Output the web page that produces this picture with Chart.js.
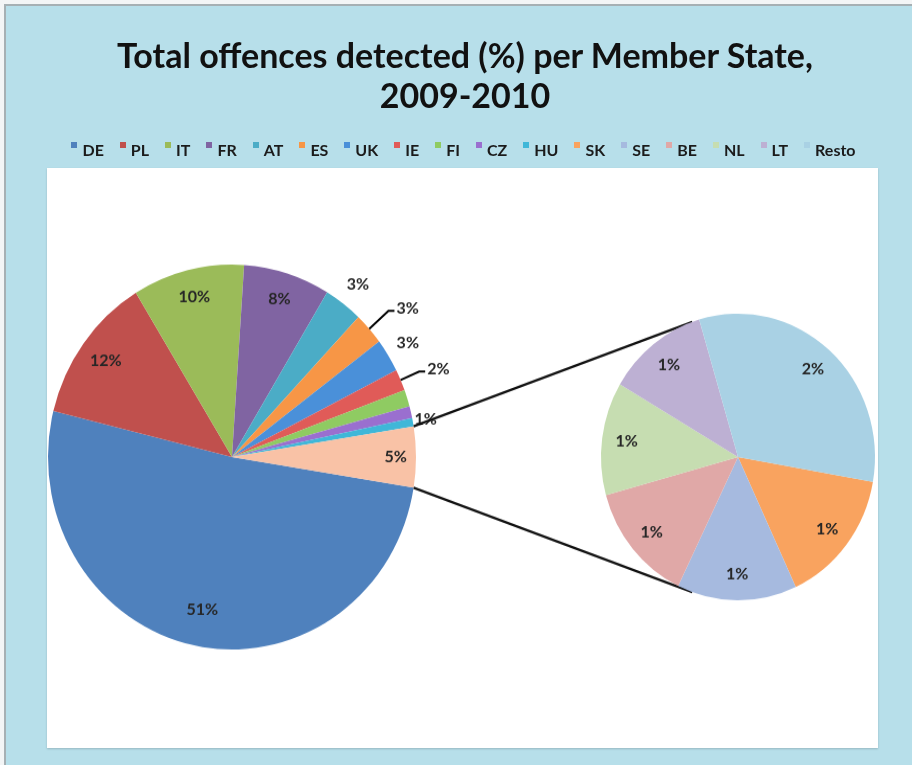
<!DOCTYPE html>
<html>
<head>
<meta charset="utf-8">
<title>Total offences detected (%) per Member State, 2009-2010</title>
<script src="https://cdn.jsdelivr.net/npm/chart.js@4.4.1/dist/chart.umd.min.js"></script>
<style>
  html, body { margin: 0; padding: 0; }
  body { width: 912px; height: 765px; position: relative; overflow: hidden; background: #f3f5f6; font-family: Lato, "Open Sans", sans-serif; }
  #frame { position: absolute; left: 4px; top: 4px; right: 0; bottom: 0; background: #b7dfea; border-left: 2px solid #a6b0b4; border-top: 2px solid #a6b0b4; }
  #plot { position: absolute; left: 47px; top: 168px; width: 831px; height: 580px; background: #fff; box-shadow: 0 1px 2px rgba(0,0,0,0.18); }
  #title { position: absolute; left: 0; top: 35px; width: 930px; text-align: center; font-weight: bold; font-size: 34px; line-height: 40px; color: #111; }
  #legend { position: absolute; left: 0; top: 141px; width: 927px; display: flex; justify-content: center; gap: 16px; font-size: 16px; font-weight: bold; line-height: 18px; color: #1b1b1b; }
  #legend .item { display: flex; align-items: flex-start; }
  #legend .box { width: 6px; height: 6px; margin: 1px 5px 0 0; }
  canvas { position: absolute; left: 0; top: 0; transform: scaleY(1.046); transform-origin: 0 457px; }
</style>
</head>
<body>
<div id="frame"></div>
<div id="plot"></div>
<canvas id="mainPie" width="912" height="765"></canvas>
<canvas id="restPie" width="912" height="765"></canvas>
<div id="title">Total offences detected (%) per Member State,<br>2009-2010</div>
<div id="legend"></div>
<script>
// big pie: the states with the largest shares
const mainLabels = ['DE', 'PL', 'IT', 'FR', 'AT', 'ES', 'UK', 'IE', 'FI', 'CZ', 'HU'];
const mainValues = [51.3, 12.4, 9.8, 7.6, 3.4, 2.7, 2.8, 1.8, 1.4, 1.0, 0.7];
// small pie: states grouped into the "other" slice of the big pie
const restLabels = ['SK', 'SE', 'BE', 'NL', 'LT', 'Resto'];
const restValues = [0.78, 0.72, 0.69, 0.65, 0.61, 1.65];

const mainColors = ['#4f81bd', '#c0504d', '#9bbb59', '#8064a2', '#4bacc6', '#f79646',
                    '#4a90d9', '#e05b58', '#8fcb62', '#9a6fcf', '#3fb7d8'];
const restColors = ['#f9a35f', '#a6badf', '#e0a8a7', '#c6ddb1', '#bdb0d3', '#a9d1e4'];
const otherColor = '#f9c2a6';

const sum = arr => arr.reduce((a, b) => a + b, 0);
const otherTotal = sum(restValues);
const grandTotal = sum(mainValues) + otherTotal;

// where each slice gets its percentage label (k = fraction of the radius)
const mainPlaces = [
  { k: 0.81 }, { k: 0.85 }, { k: 0.855 }, { k: 0.86 },
  { k: 1.13 }, { k: 1.14, lead: true }, { k: 1.125 }, { k: 1.11, lead: true },
  null, null, { k: 1.07 }, { k: 0.89 }
];
const restPlaces = restLabels.map(() => ({ k: 0.82 }));

// legend row built from both pies
const legend = document.getElementById('legend');
mainLabels.concat(restLabels).forEach((name, i) => {
  const color = i < mainLabels.length ? mainColors[i] : restColors[i - mainLabels.length];
  const item = document.createElement('div');
  item.className = 'item';
  item.innerHTML = `<span class="box" style="background:${color}"></span><span>${name}</span>`;
  legend.appendChild(item);
});

// percentage labels, inside or outside the slice, with optional leader line
const pctLabels = {
  id: 'pctLabels',
  afterDatasetsDraw(chart, args, opts) {
    const ctx = chart.ctx;
    const values = chart.data.datasets[0].data;
    ctx.save();
    ctx.font = 'bold 16px Lato';
    ctx.fillStyle = '#262626';
    ctx.strokeStyle = '#000';
    ctx.lineWidth = 2;
    chart.getDatasetMeta(0).data.forEach((arc, i) => {
      const place = opts.places[i];
      if (!place) return;
      const p = arc.getProps(['x', 'y', 'startAngle', 'endAngle', 'outerRadius'], true);
      const mid = (p.startAngle + p.endAngle) / 2;
      const cos = Math.cos(mid), sin = Math.sin(mid);
      const text = Math.round(values[i] / grandTotal * 100) + '%';
      const px = p.x + cos * p.outerRadius * place.k;
      const py = p.y + sin * p.outerRadius * place.k;
      ctx.textBaseline = 'middle';
      if (place.lead) {
        ctx.beginPath();
        ctx.moveTo(p.x + cos * p.outerRadius, p.y + sin * p.outerRadius);
        ctx.lineTo(px, py);
        ctx.lineTo(px + 6, py);
        ctx.stroke();
        ctx.textAlign = 'left';
        ctx.fillText(text, px + 8, py - 2);
      } else {
        ctx.textAlign = 'center';
        ctx.fillText(text, px, py);
      }
    });
    ctx.restore();
  }
};

const mainChart = new Chart(document.getElementById('mainPie'), {
  type: 'pie',
  data: {
    labels: mainLabels.concat(['Other']),
    datasets: [{
      data: mainValues.concat([otherTotal]),
      backgroundColor: mainColors.concat([otherColor]),
      borderWidth: 0
    }]
  },
  options: {
    responsive: false,
    animation: false,
    radius: 184,
    // the "other" slice is centred on the right, facing the small pie
    rotation: 90 + otherTotal / grandTotal * 180,
    layout: { padding: { left: 0, right: 448, top: 149, bottom: 0 } },
    plugins: {
      legend: { display: false },
      tooltip: { enabled: false },
      pctLabels: { places: mainPlaces }
    }
  },
  plugins: [pctLabels]
});

// lines from the edges of the "other" slice to the small pie
const connectors = {
  id: 'connectors',
  beforeDatasetsDraw(chart) {
    const o = mainChart.getDatasetMeta(0).data[mainLabels.length]
      .getProps(['x', 'y', 'startAngle', 'endAngle', 'outerRadius'], true);
    const s = chart.getDatasetMeta(0).data[0].getProps(['x', 'y', 'outerRadius'], true);
    const reach = 109.5 * Math.PI / 180;
    const ctx = chart.ctx;
    ctx.save();
    ctx.strokeStyle = '#111';
    ctx.lineWidth = 2.2;
    ctx.beginPath();
    ctx.moveTo(o.x + Math.cos(o.startAngle) * o.outerRadius, o.y + Math.sin(o.startAngle) * o.outerRadius);
    ctx.lineTo(s.x + Math.cos(-reach) * s.outerRadius, s.y + Math.sin(-reach) * s.outerRadius);
    ctx.moveTo(o.x + Math.cos(o.endAngle) * o.outerRadius, o.y + Math.sin(o.endAngle) * o.outerRadius);
    ctx.lineTo(s.x + Math.cos(reach) * s.outerRadius, s.y + Math.sin(reach) * s.outerRadius);
    ctx.stroke();
    ctx.restore();
  }
};

const restChart = new Chart(document.getElementById('restPie'), {
  type: 'pie',
  data: {
    labels: restLabels,
    datasets: [{
      data: restValues,
      backgroundColor: restColors,
      borderWidth: 0
    }]
  },
  options: {
    responsive: false,
    animation: false,
    radius: 137,
    rotation: 100,
    layout: { padding: { left: 564, right: 0, top: 149, bottom: 0 } },
    plugins: {
      legend: { display: false },
      tooltip: { enabled: false },
      pctLabels: { places: restPlaces }
    }
  },
  plugins: [connectors, pctLabels]
});
</script>
</body>
</html>
